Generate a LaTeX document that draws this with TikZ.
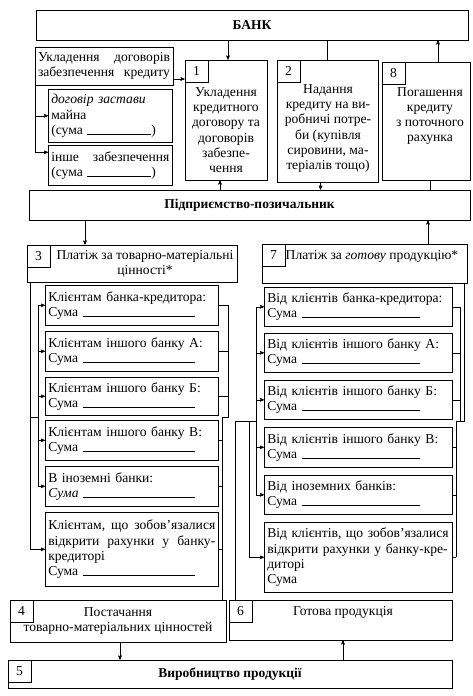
\documentclass[tikz,border=0pt]{standalone}
\usepackage{fontspec}
\setmainfont{Liberation Serif}
\usetikzlibrary{arrows, shapes}

\tikzset{
  box/.style={rectangle, draw, inner sep=0pt},
  numbox/.style={rectangle, draw, anchor=north west, minimum width=23pt, minimum height=22pt, inner sep=0pt},
  item/.style={rectangle, draw, inner xsep=3pt, inner ysep=0pt, align=left},
  lbox/.style={item, anchor=north west, text width=167pt},
  rbox/.style={item, anchor=north west, text width=182pt},
  txt/.style={align=center, inner sep=0pt},
  title/.style={font=\fontsize{13.5}{15.3}\selectfont\bfseries}
}

\begin{document}
\begin{tikzpicture}[x=1pt, y=-1pt, >=stealth', line width=0.6pt,
    every node/.style={font=\fontsize{13.6}{15.3}\selectfont}]
  \useasboundingbox (0,0) rectangle (473,696);

  % Bank and credit boxes
  \node[box, title, minimum width=432pt, minimum height=30pt] (bank) at (252,25) {БАНК};

  \node[box, minimum width=82pt, minimum height=120pt] (b1) at (226,120) {};
  \node[numbox] (n1) at (b1.north west) {1};
  \node[txt] (t1) at (226,130) {Укладення\\кредитного\\договору та\\договорів\\забезпе-\\чення};

  \node[box, minimum width=101pt, minimum height=122pt] (b2) at (327.5,121) {};
  \node[numbox] (n2) at (b2.north west) {2};
  \node[txt] (t2) at (328,128.5) {Надання\\кредиту на ви-\\робничі потре-\\би (купівля\\сировини, ма-\\теріалів тощо)};

  \node[box, minimum width=88pt, minimum height=118pt] (b8) at (426,121) {};
  \node[numbox] (n8) at (b8.north west) {8};
  \node[txt] (t8) at (430,116) {Погашення\\кредиту\\з поточного\\рахунка};

  % Security agreements
  \node[item, text width=132pt, minimum height=38pt] (zab) at (104,66) {Укладення \hfill договорів\\забезпечення \hfill кредиту};
  \node[item, anchor=north west, text width=118pt, minimum height=53pt] (zast) at (48,89) {\textit{договір застави}\\майна\\(сума \rule{64pt}{0.4pt})};
  \node[item, anchor=north west, text width=118pt, minimum height=40pt] (inshe) at (48,145) {інше \hfill забезпечення\\(сума \rule{64pt}{0.4pt})};

  \node[box, title, minimum width=441pt, minimum height=30pt] (pidpr) at (249.5,205) {Підприємство-позичальник};

  % Payments
  \node[box, minimum width=210pt, minimum height=37pt] (p3) at (132,263.5) {};
  \node[numbox] (n3) at (p3.north west) {3};
  \node[txt] (t3) at (145,263.5) {Платіж за товарно-матеріальні\\цінності*};

  \node[box, minimum width=205pt, minimum height=39pt] (p7) at (364.5,263.5) {};
  \node[numbox] (n7) at (p7.north west) {7};
  \node[txt] (t7) at (372,256) {Платіж за \textit{готову} продукцію*};

  \node[lbox, minimum height=40pt] (l1) at (45,285) {Клієнтам банка-кредитора:\\Сума \rule{112pt}{0.4pt}};
  \node[lbox, minimum height=40pt] (l2) at (45,331) {Клієнтам іншого банку А:\\Сума \rule{112pt}{0.4pt}};
  \node[lbox, minimum height=38pt] (l3) at (45,377) {Клієнтам іншого банку Б:\\Сума \rule{112pt}{0.4pt}};
  \node[lbox, minimum height=40pt] (l4) at (45,420) {Клієнтам іншого банку В:\\Сума \rule{112pt}{0.4pt}};
  \node[lbox, minimum height=40pt] (l5) at (45,466) {В іноземні банки:\\\textit{Сума} \rule{112pt}{0.4pt}};
  \node[lbox, minimum height=74pt] (l6) at (45,512) {Клієнтам, \hfill що \hfill зобов’язалися\\відкрити \hfill рахунки \hfill у \hfill банку-\\кредиторі\\Сума \rule{112pt}{0.4pt}};

  \node[rbox, minimum height=39pt] (r1) at (264,287) {Від клієнтів банка-кредитора:\\Сума \rule{118pt}{0.4pt}};
  \node[rbox, minimum height=39pt] (r2) at (264,333) {Від клієнтів іншого банку А:\\Сума \rule{118pt}{0.4pt}};
  \node[rbox, minimum height=39pt] (r3) at (264,380) {Від клієнтів іншого банку Б:\\Сума \rule{118pt}{0.4pt}};
  \node[rbox, minimum height=40pt] (r4) at (264,427) {Від клієнтів іншого банку В:\\Сума \rule{118pt}{0.4pt}};
  \node[rbox, minimum height=39pt] (r5) at (264,475) {Від іноземних банків:\\Сума \rule{118pt}{0.4pt}};
  \node[rbox, minimum height=70pt] (r6) at (264,522) {Від клієнтів, що зобов’язалися\\відкрити рахунки у банку-кре-\\диторі\\Сума};

  % Supply and production
  \node[box, minimum width=216pt, minimum height=42pt] (p4) at (118,621) {};
  \node[numbox] (n4) at (p4.north west) {4};
  \node[txt] (t4) at (118,621) {Постачання\\товарно-матеріальних цінностей};

  \node[box, minimum width=223pt, minimum height=40pt] (p6) at (340.5,620) {};
  \node[numbox] (n6) at (p6.north west) {6};
  \node[txt] (t6) at (343,612) {Готова продукція};

  \node[box, title, minimum width=444pt, minimum height=28pt] (p5) at (230,674) {Виробництво продукції};
  \node[numbox] (n5) at (p5.north west) {5};

  % Paths at the top
  \coordinate (c1) at ([xshift=2pt]b1.north);
  \coordinate (c8) at ([xshift=12pt]b8.north);
  \coordinate (d1) at ([xshift=-6pt]b1.south);
  \coordinate (d2) at ([xshift=-7pt]b2.south);
  \coordinate (d8) at ([xshift=4pt]b8.south);
  \coordinate (zl) at ([xshift=1pt]zab.south west);
  \coordinate (za) at ([yshift=-13pt]zab.east);
  \coordinate (zi) at ([yshift=13pt]inshe.west);
  \draw[->] (c1 |- bank.south) -- (c1);
  \draw (b2.north |- bank.south) -- (b2.north);
  \draw[->] (c8) -- (c8 |- bank.south);
  \draw[->] (za) -- (za -| b1.west);
  \draw[->] (zl) |- (zast.west);
  \draw[->] (zl) |- (zi);
  \draw[->] (d1 |- pidpr.north) -- (d1);
  \draw[->] (d2) -- (d2 |- pidpr.north);
  \draw (d8) -- (d8 |- pidpr.north);

  \coordinate (c3) at ([xshift=-47pt]p3.north);
  \coordinate (c7) at ([xshift=63.5pt]p7.north);
  \draw[->] (c3 |- pidpr.south) -- (c3);
  \draw[->] (c7) -- (c7 |- pidpr.south);

  % Left column brackets
  \coordinate (lout) at ([xshift=4pt]p3.south west);
  \coordinate (ljoin) at (38,417.5);
  \draw (l1.west -| ljoin) -- (l5.west -| ljoin);
  \foreach \i in {1,...,5}
    \draw[->] (l\i.west -| ljoin) -- (l\i.west);
  \draw[->] (lout) |- (l6.west);
  \draw (lout |- ljoin) -- (ljoin);

  \coordinate (lup) at (228,417.5);
  \coordinate (llow) at (222,417.5);
  \foreach \i in {1,2,3}
    \draw (l\i.east) -- (l\i.east -| lup);
  \foreach \i in {4,5,6}
    \draw (l\i.east) -- (l\i.east -| llow);
  \draw (l1.east -| lup) -- (lup) -- (llow) -- (llow |- p4.north);

  % Right column brackets
  \coordinate (rin) at (235,421);
  \coordinate (rjoin) at (256,421);
  \coordinate (rjout) at (249,421);
  \draw (rin |- p6.north) -- (rin) -- (rjoin);
  \draw (r1.west -| rjoin) -- (r5.west -| rjoin);
  \foreach \i in {1,...,5}
    \draw[->] (r\i.west -| rjoin) -- (r\i.west);
  \draw[->] (rjout) |- (r6.west);

  \coordinate (rup) at (460,421);
  \coordinate (rlow) at (456,421);
  \coordinate (rout) at (464,421);
  \foreach \i in {1,2,3}
    \draw (r\i.east) -- (r\i.east -| rup);
  \foreach \i in {4,5,6}
    \draw (r\i.east) -- (r\i.east -| rlow);
  \draw (r1.east -| rup) -- (rup);
  \draw (r6.east -| rlow) -- (rlow) -- (rout) -- (rout |- p7.south);

  % Paths at the bottom
  \coordinate (c4) at ([xshift=2pt]p4.south);
  \coordinate (c6) at ([xshift=2.5pt]p6.south);
  \draw[->] (c4) -- (c4 |- p5.north);
  \draw[->] (c6 |- p5.north) -- (c6);
\end{tikzpicture}
\end{document}
